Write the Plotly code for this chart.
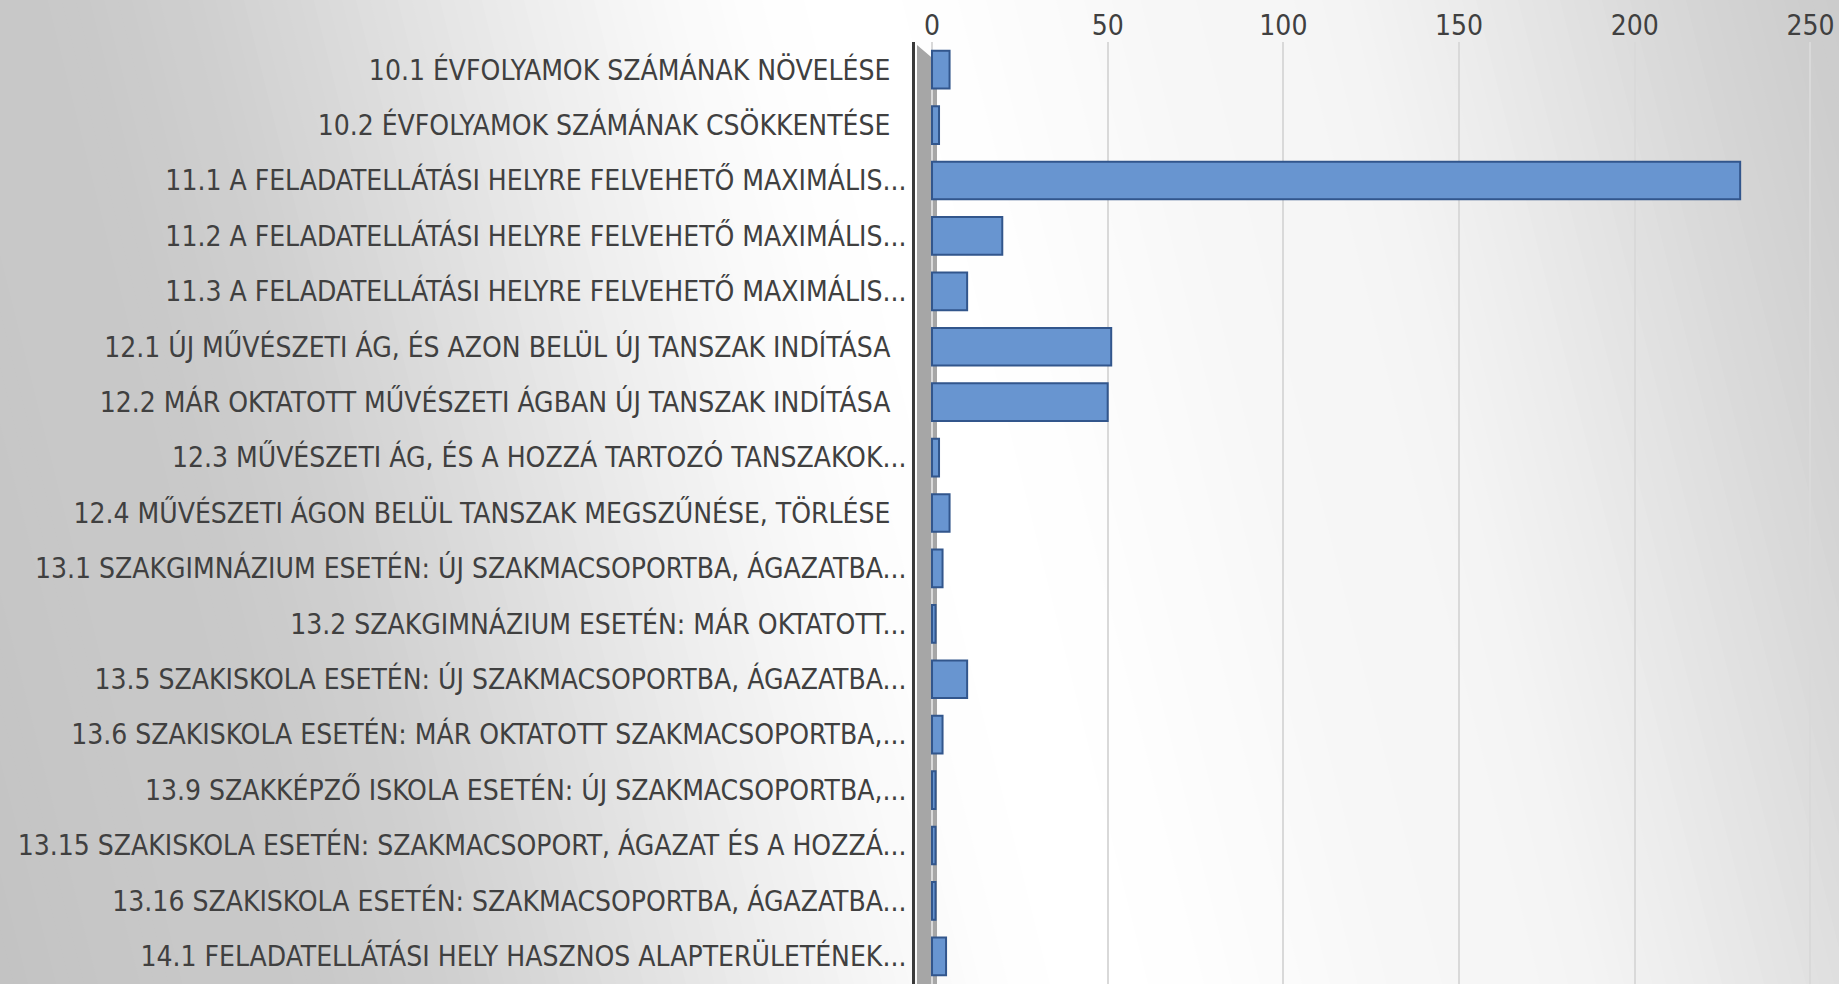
import plotly.graph_objects as go

categories = [
    "10.1 ÉVFOLYAMOK SZÁMÁNAK NÖVELÉSE\u00a0\u00a0",
    "10.2 ÉVFOLYAMOK SZÁMÁNAK CSÖKKENTÉSE\u00a0\u00a0",
    "11.1 A FELADATELLÁTÁSI HELYRE FELVEHETŐ MAXIMÁLIS...",
    "11.2 A FELADATELLÁTÁSI HELYRE FELVEHETŐ MAXIMÁLIS...",
    "11.3 A FELADATELLÁTÁSI HELYRE FELVEHETŐ MAXIMÁLIS...",
    "12.1 ÚJ MŰVÉSZETI ÁG, ÉS AZON BELÜL ÚJ TANSZAK INDÍTÁSA\u00a0\u00a0",
    "12.2 MÁR OKTATOTT MŰVÉSZETI ÁGBAN ÚJ TANSZAK INDÍTÁSA\u00a0\u00a0",
    "12.3 MŰVÉSZETI ÁG, ÉS A HOZZÁ TARTOZÓ TANSZAKOK...",
    "12.4 MŰVÉSZETI ÁGON BELÜL TANSZAK MEGSZŰNÉSE, TÖRLÉSE\u00a0\u00a0",
    "13.1 SZAKGIMNÁZIUM ESETÉN: ÚJ SZAKMACSOPORTBA, ÁGAZATBA...",
    "13.2 SZAKGIMNÁZIUM ESETÉN: MÁR OKTATOTT...",
    "13.5 SZAKISKOLA ESETÉN: ÚJ SZAKMACSOPORTBA, ÁGAZATBA...",
    "13.6 SZAKISKOLA ESETÉN: MÁR OKTATOTT SZAKMACSOPORTBA,...",
    "13.9 SZAKKÉPZŐ ISKOLA ESETÉN: ÚJ SZAKMACSOPORTBA,...",
    "13.15 SZAKISKOLA ESETÉN: SZAKMACSOPORT, ÁGAZAT ÉS A HOZZÁ...",
    "13.16 SZAKISKOLA ESETÉN: SZAKMACSOPORTBA, ÁGAZATBA...",
    "14.1 FELADATELLÁTÁSI HELY HASZNOS ALAPTERÜLETÉNEK...",
]
values = [5, 2, 230, 20, 10, 51, 50, 2, 5, 3, 1, 10, 3, 1, 1, 1, 4]
x_ticks = [0, 50, 100, 150, 200, 250]

W, H = 1839, 984
ML, MR, MT, MB = 915, 11, 42, 0
PW, PH = W - ML - MR, H - MT - MB

def px_to_paper_x(px):
    return (px - ML) / PW

def py_to_paper_y(py):
    return 1 - (py - MT) / PH

# background gradient (diagonal gray-white-gray)
stops = [(-400, 192), (0, 200), (850, 255), (1250, 246), (1900, 203)]

def gray_at(s):
    if s <= stops[0][0]:
        return stops[0][1]
    for (s0, v0), (s1, v1) in zip(stops, stops[1:]):
        if s0 <= s <= s1:
            t = (s - s0) / (s1 - s0)
            t = t * t * (3 - 2 * t)
            return v0 + (v1 - v0) * t
    return stops[-1][1]

slope = 0.25
shapes = []
step = 14
s = -400
while s < W + 20:
    s0, s1 = s, s + step + 1
    g = int(round(gray_at(s + step / 2)))
    pts = [(s0, 0), (s1, 0), (s1 + slope * H, H), (s0 + slope * H, H)]
    path = "M " + " L ".join(f"{px_to_paper_x(x):.5f},{py_to_paper_y(y):.5f}" for x, y in pts) + " Z"
    shapes.append(dict(type="path", xref="paper", yref="paper", path=path,
                       fillcolor=f"rgb({g},{g},{g})", line=dict(width=0), layer="below"))
    s += step

# 3D wall strip next to the axis
shapes.append(dict(type="path", xref="paper", yref="paper",
                   path=(f"M {px_to_paper_x(917)},{py_to_paper_y(45)} "
                         f"L {px_to_paper_x(937)},{py_to_paper_y(62)} "
                         f"L {px_to_paper_x(937)},{py_to_paper_y(984)} "
                         f"L {px_to_paper_x(917)},{py_to_paper_y(984)} Z"),
                   fillcolor="#a6a6a6", line=dict(width=0), layer="below"))

fig = go.Figure()
fig.add_trace(go.Bar(
    y=categories, x=values, orientation="h", width=0.68,
    marker=dict(color="rgb(104,149,208)", line=dict(color="rgb(50,86,140)", width=2)),
    hoverinfo="x+y",
))

font_family = "Liberation Sans Narrow, Arial Narrow, DejaVu Sans Condensed, sans-serif"
fig.update_layout(
    width=W, height=H,
    margin=dict(l=ML, r=MR, t=MT, b=MB, pad=0),
    paper_bgcolor="white",
    plot_bgcolor="rgba(0,0,0,0)",
    shapes=shapes,
    showlegend=False,
    font=dict(family=font_family, size=28, color="#404040"),
    xaxis=dict(
        side="top", range=[-4.84, 255], tickvals=x_ticks, ticktext=[str(v) for v in x_ticks],
        showgrid=True, gridcolor="#d9d9d9", gridwidth=2, zeroline=False,
        showline=False, ticks="", tickfont=dict(size=28, color="#404040"), automargin=False,
    ),
    yaxis=dict(
        categoryorder="array", categoryarray=categories, range=[16.5, -0.5],
        showgrid=False, zeroline=False, showline=True, linecolor="#3a3a3a", linewidth=3,
        ticks="", tickfont=dict(size=28, color="#404040"), automargin=False,
    ),
)

fig.write_html("out.html", config={"displayModeBar": False},
               post_script="document.body.style.margin='0';document.body.style.overflow='hidden';")
